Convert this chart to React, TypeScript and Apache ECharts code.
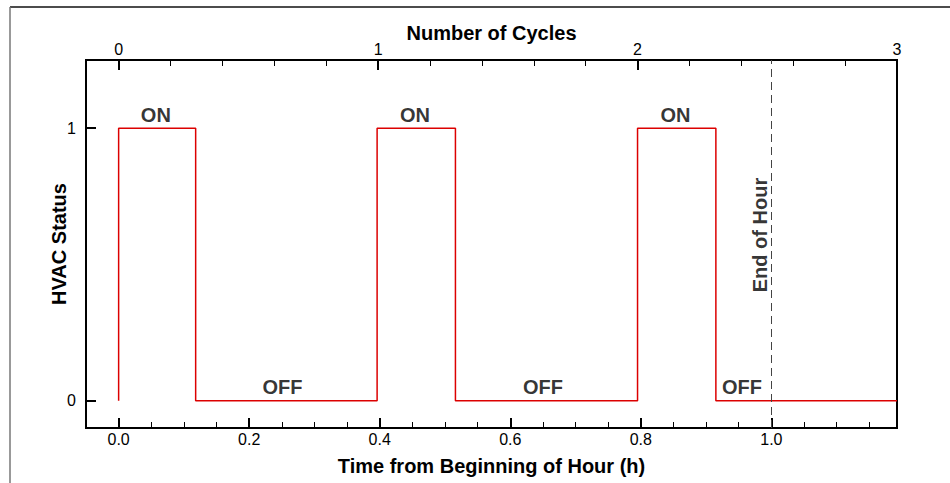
import React, { useEffect, useRef } from "react";
import * as echarts from "echarts";

// Step data: HVAC status over time (h)
const statusTimes = [0, 0, 0.118, 0.396, 0.516, 0.795, 0.915, 1.1925];
const statusValues = [0, 1, 0, 1, 0, 1, 0, 0];

// Axis ranges / ticks
const timeMin = -0.05;
const timeMax = 1.1925;
const cycleMin = -0.1258;
const cycleMax = 3;
const timeMajorTicks = [0, 0.2, 0.4, 0.6, 0.8, 1.0];
const timeMinorTicks = [0.05, 0.1, 0.15, 0.25, 0.3, 0.35, 0.45, 0.5, 0.55, 0.65, 0.7, 0.75, 0.85, 0.9, 0.95, 1.05, 1.1, 1.15];
const cycleMajorTicks = [0, 1, 2, 3];
const cycleMinorTicks = [0.2, 0.4, 0.6, 0.8, 1.2, 1.4, 1.6, 1.8, 2.2, 2.4, 2.6, 2.8];
const statusTicks = [0, 1];

// Annotations
const onLabelTimes = [0.057, 0.454, 0.853];
const offLabelTimes = [0.251, 0.65, 0.955];
const endOfHourTime = 1.0;
const endOfHourLabelPos = [0.9824, 0.608];

const FONT = "'Liberation Sans', Arial, Helvetica, sans-serif";

export default function App() {
  const ref = useRef<HTMLDivElement>(null);
  useEffect(() => {
    if (!ref.current) return;
    const chart = echarts.init(ref.current, null, { renderer: "svg" });
    const grid = { left: 86, right: 53, top: 60, bottom: 55 };
    const tickLabel = { color: "#000", fontSize: 16, fontFamily: FONT };
    const nameStyle = { color: "#000", fontSize: 20, fontWeight: "bold" as const, fontFamily: FONT };
    const bold = { color: "#000", fontSize: 20, fontWeight: "bold" as const, fontFamily: FONT };
    chart.setOption({
      animation: false,
      backgroundColor: "#fff",
      textStyle: { fontFamily: FONT },
      grid: [
        { ...grid, show: true, borderColor: "#000", borderWidth: 2, backgroundColor: "transparent" },
        { ...grid },
      ],
      xAxis: [
        {
          type: "value", gridIndex: 0, position: "bottom", min: timeMin, max: timeMax,
          name: "Time from Beginning of Hour (h)", nameLocation: "middle", nameGap: 28, nameMoveOverlap: false,
          nameTextStyle: nameStyle,
          axisLine: { show: true, onZero: false, lineStyle: { color: "#000", width: 2 } },
          axisTick: { show: true, inside: true, length: 10, customValues: timeMajorTicks, lineStyle: { color: "#000", width: 2 } },
          axisLabel: { ...tickLabel, margin: 3, customValues: timeMajorTicks, formatter: (v: number) => v.toFixed(1) },
          splitLine: { show: false },
        },
        {
          type: "value", gridIndex: 0, position: "top", min: cycleMin, max: cycleMax,
          name: "Number of Cycles", nameLocation: "middle", nameGap: 17, nameMoveOverlap: false,
          nameTextStyle: nameStyle,
          axisLine: { show: true, onZero: false, lineStyle: { color: "#000", width: 2 } },
          axisTick: { show: true, inside: true, length: 10, customValues: cycleMajorTicks, lineStyle: { color: "#000", width: 2 } },
          axisLabel: { ...tickLabel, margin: 3, customValues: cycleMajorTicks, formatter: (v: number) => String(v) },
          splitLine: { show: false },
        },
        {
          type: "value", gridIndex: 1, position: "bottom", min: timeMin, max: timeMax,
          axisLine: { show: false, onZero: false },
          axisTick: { show: true, inside: true, length: 6, customValues: timeMinorTicks, lineStyle: { color: "#000", width: 1 } },
          axisLabel: { show: false },
          splitLine: { show: false },
        },
        {
          type: "value", gridIndex: 1, position: "top", min: cycleMin, max: cycleMax,
          axisLine: { show: false, onZero: false },
          axisTick: { show: true, inside: true, length: 6, customValues: cycleMinorTicks, lineStyle: { color: "#000", width: 1 } },
          axisLabel: { show: false },
          splitLine: { show: false },
        },
      ],
      yAxis: [
        {
          type: "value", gridIndex: 0, min: -0.1, max: 1.25,
          name: "HVAC Status", nameLocation: "middle", nameGap: 17, nameRotate: 90, nameMoveOverlap: false,
          nameTextStyle: nameStyle,
          axisLine: { show: true, onZero: false, lineStyle: { color: "#000", width: 2 } },
          axisTick: { show: true, inside: true, length: 10, customValues: statusTicks, lineStyle: { color: "#000", width: 2 } },
          axisLabel: { ...tickLabel, margin: 10, customValues: statusTicks },
          splitLine: { show: false },
        },
        {
          type: "value", gridIndex: 1, min: -0.1, max: 1.25, show: false,
        },
      ],
      graphic: [
        { type: "line", shape: { x1: 10, y1: 7, x2: 950, y2: 7 }, style: { stroke: "#111", lineWidth: 1.5 } },
        { type: "line", shape: { x1: 10, y1: 7, x2: 10, y2: 483 }, style: { stroke: "#777", lineWidth: 1.5 } },
      ],
      series: [
        {
          type: "line", xAxisIndex: 0, yAxisIndex: 0, step: "end", symbol: "none",
          data: statusTimes.map((t, i) => [t, statusValues[i]]),
          lineStyle: { color: "#dc0000", width: 1.5 },
          markLine: {
            silent: true, symbol: "none", animation: false,
            label: { show: false },
            lineStyle: { color: "#444", type: [8, 5], width: 1 },
            data: [{ xAxis: endOfHourTime }],
          },
          z: 3,
        },
        {
          type: "scatter", xAxisIndex: 0, yAxisIndex: 0, symbolSize: 1,
          itemStyle: { color: "transparent" },
          data: onLabelTimes.map((t) => [t, 1]),
          label: { show: true, position: "top", distance: 3, formatter: "ON", ...bold },
        },
        {
          type: "scatter", xAxisIndex: 0, yAxisIndex: 0, symbolSize: 1,
          itemStyle: { color: "transparent" },
          data: offLabelTimes.map((t) => [t, 0]),
          label: { show: true, position: "top", distance: 3, formatter: "OFF", ...bold },
        },
        {
          type: "scatter", xAxisIndex: 0, yAxisIndex: 0, symbolSize: 1,
          itemStyle: { color: "transparent" },
          data: [endOfHourLabelPos],
          label: { show: true, position: "inside", rotate: 90, formatter: "End of Hour", ...bold },
        },
      ],
    });
    return () => chart.dispose();
  }, []);
  return <div ref={ref} style={{ position: "fixed", left: 0, top: 0, width: 950, height: 483 }} />;
}
